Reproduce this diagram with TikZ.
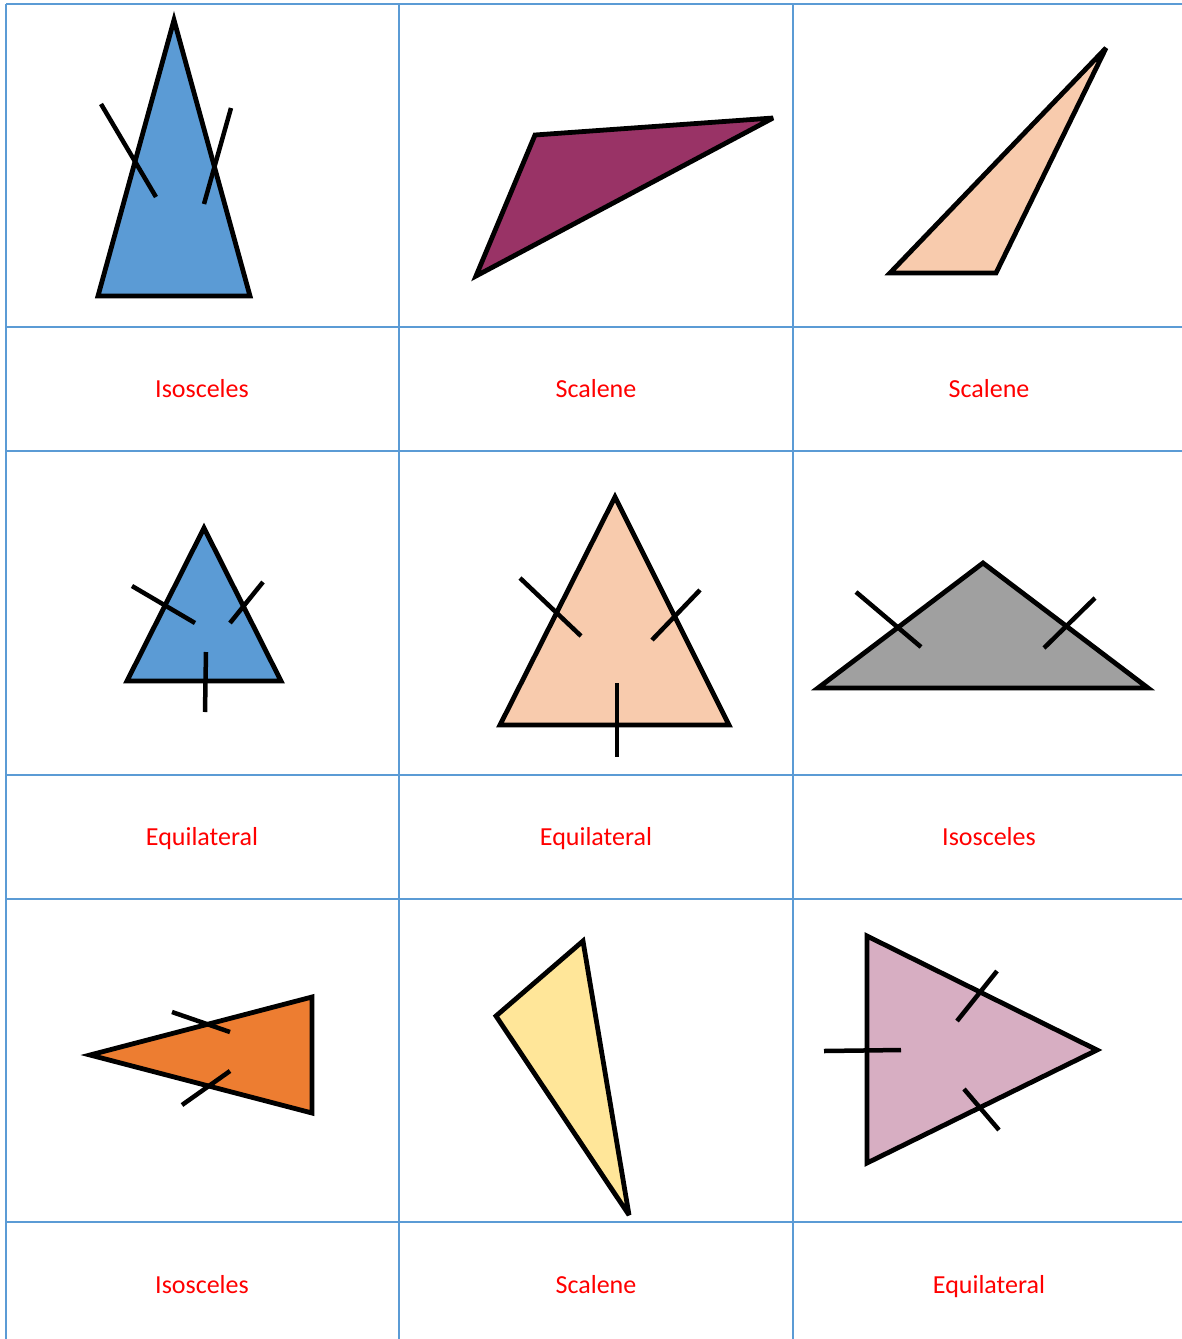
\documentclass[tikz,border=0pt]{standalone}
\usepackage{fontspec}
\setmainfont{Carlito}
\definecolor{gridblue}{HTML}{5B9BD5}
\definecolor{triblue}{HTML}{5B9BD5}
\definecolor{tripurple}{HTML}{993366}
\definecolor{tripeach}{HTML}{F8CBAD}
\definecolor{trigray}{HTML}{A0A0A0}
\definecolor{triorange}{HTML}{ED7D31}
\definecolor{triyellow}{HTML}{FFE699}
\definecolor{tripink}{HTML}{D7AEC2}
\definecolor{labelred}{HTML}{FF0000}
\begin{document}
\begin{tikzpicture}[x=1pt,y=-1pt,
  gridline/.style={draw=gridblue,line width=2pt},
  tri/.style={draw=black,line width=4.8pt,line join=miter,miter limit=4.5},
  tick/.style={draw=black,line width=4.5pt,line cap=butt},
  lbl/.style={text=labelred,font=\fontsize{26}{30}\selectfont,anchor=base,inner sep=0pt}]
\useasboundingbox (0,0) rectangle (1182,1339);
\fill[white] (0,0) rectangle (1182,1339);
% grid
\foreach \x in {6,399,793} \draw[gridline] (\x,4) -- (\x,1339);
\foreach \y in {4,327,451,775,899,1222} \draw[gridline] (6,\y) -- (1182,\y);
% row 1
\draw[tri,fill=triblue] (174,20) -- (250,296) -- (98,296) -- cycle;
\draw[tick] (101,104) -- (156,197);
\draw[tick] (231,108) -- (204,204);
\draw[tri,fill=tripurple] (535,135) -- (773,118) -- (476,276) -- cycle;
\draw[tri,fill=tripeach] (1106,48) -- (996,273) -- (890,273) -- cycle;
% row 2
\draw[tri,fill=triblue] (204,528) -- (281,681) -- (127,681) -- cycle;
\draw[tick] (132,586) -- (195,623);
\draw[tick] (263,582) -- (230,623);
\draw[tick] (206,652) -- (205,712);
\draw[tri,fill=tripeach] (615,497) -- (729,725) -- (500,725) -- cycle;
\draw[tick] (520,578) -- (581,636);
\draw[tick] (700,590) -- (652,640);
\draw[tick] (617,683) -- (617,757);
\draw[tri,fill=trigray] (983,563) -- (1148,688) -- (818,688) -- cycle;
\draw[tick] (856,592) -- (921,647);
\draw[tick] (1095,598) -- (1044,648);
% row 3
\draw[tri,fill=triorange] (90,1055) -- (312,997) -- (312,1113) -- cycle;
\draw[tick] (172,1012) -- (230,1032);
\draw[tick] (182,1105) -- (230,1071);
\draw[tri,fill=triyellow] (583,941) -- (629,1215) -- (496,1016) -- cycle;
\draw[tri,fill=tripink] (867,936) -- (1097,1050) -- (867,1163) -- cycle;
\draw[tick] (997,971) -- (957,1021);
\draw[tick] (824,1051) -- (901,1050);
\draw[tick] (964,1089) -- (999,1130);
% labels
\node[lbl] (l11) at (202,397) {Isosceles};
\node[lbl] (l12) at (596,397) {Scalene};
\node[lbl] (l13) at (989,397) {Scalene};
\node[lbl] (l21) at (202,845) {Equilateral};
\node[lbl] (l22) at (596,845) {Equilateral};
\node[lbl] (l23) at (989,845) {Isosceles};
\node[lbl] (l31) at (202,1293) {Isosceles};
\node[lbl] (l32) at (596,1293) {Scalene};
\node[lbl] (l33) at (989,1293) {Equilateral};
\end{tikzpicture}
\end{document}
